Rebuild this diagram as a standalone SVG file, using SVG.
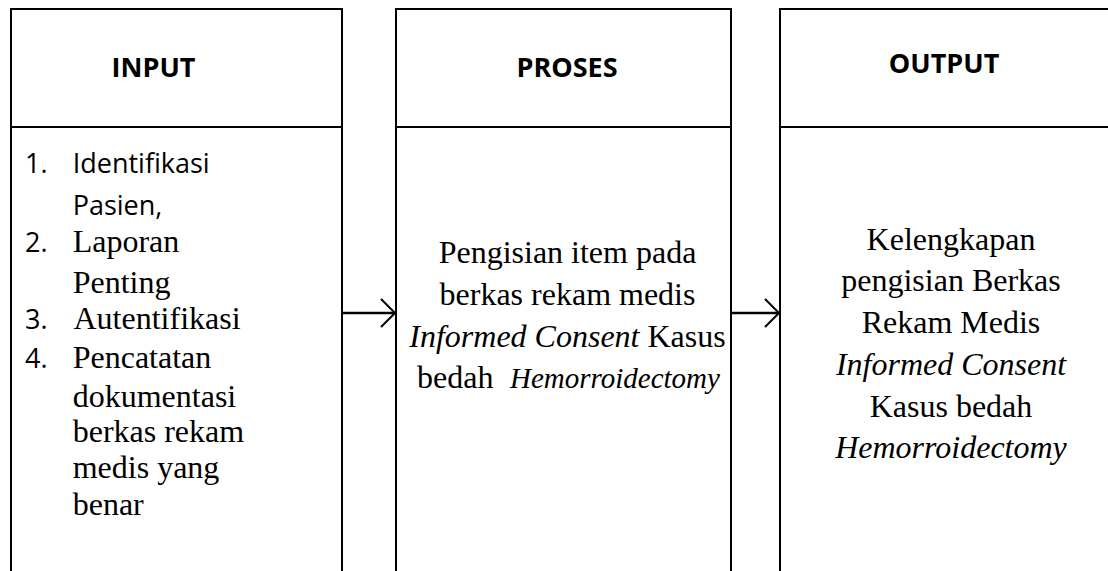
<svg xmlns="http://www.w3.org/2000/svg" width="1108" height="571" viewBox="0 0 1108 571">
<defs>
<style>
.box{fill:#fff;stroke:#000;stroke-width:2}
.div{stroke:#000;stroke-width:2}
.hd{font-family:"Open Sans","Liberation Sans",sans-serif;font-weight:bold;font-size:27px;fill:#000;text-anchor:middle}
.cal{font-family:"Open Sans","Liberation Sans",sans-serif;font-size:27px;fill:#000}
.tm{font-family:"Liberation Serif","Times New Roman",serif;font-size:32px;fill:#000}
.mid{text-anchor:middle}
.it{font-style:italic}
.conn{stroke:#000;stroke-width:2.5;fill:none}
</style>
<marker id="arr" viewBox="-16 -16 18 32" refX="0" refY="0" markerWidth="18" markerHeight="32" markerUnits="userSpaceOnUse" orient="auto">
<path d="M-14,-14 L0,0 L-14,14" fill="none" stroke="#000" stroke-width="2"/>
</marker>
</defs>
<rect width="1108" height="571" fill="#fff"/>
<g id="node-input">
<rect class="box" x="11" y="9" width="331" height="580"/>
<line class="div" x1="11" y1="127" x2="342" y2="127"/>
<text class="hd" x="153.5" y="77">INPUT</text>
<text class="cal" x="25" y="173">1.</text>
<text class="cal" x="72.7" y="173">Identifikasi</text>
<text class="cal" x="72.7" y="215">Pasien,</text>
<text class="cal" x="25" y="252">2.</text>
<text class="tm" x="72.7" y="252">Laporan</text>
<text class="tm" x="72.7" y="293">Penting</text>
<text class="cal" x="25" y="329">3.</text>
<text class="tm" x="73.5" y="329">Autentifikasi</text>
<text class="cal" x="25" y="368">4.</text>
<text class="tm" x="72.7" y="368">Pencatatan</text>
<text class="tm" x="72.7" y="407">dokumentasi</text>
<text class="tm" x="72.7" y="442">berkas rekam</text>
<text class="tm" x="72.7" y="478">medis yang</text>
<text class="tm" x="72.7" y="515">benar</text>
</g>
<g id="node-proses">
<rect class="box" x="396" y="9" width="335" height="580"/>
<line class="div" x1="396" y1="127" x2="731" y2="127"/>
<text class="hd" x="567" y="77">PROSES</text>
<text class="tm mid" x="567.5" y="263">Pengisian item pada</text>
<text class="tm mid" x="567.5" y="305">berkas rekam medis</text>
<text class="tm mid" x="567.5" y="347"><tspan class="it">Informed Consent</tspan> Kasus</text>
<text class="tm" x="417" y="388">bedah</text>
<text class="tm it" x="510" y="388" style="font-size:29px">Hemorroidectomy</text>
</g>
<g id="node-output">
<rect class="box" x="780" y="9" width="345" height="580"/>
<line class="div" x1="780" y1="127" x2="1125" y2="127"/>
<text class="hd" x="944" y="73">OUTPUT</text>
<text class="tm mid" x="951" y="250">Kelengkapan</text>
<text class="tm mid" x="951" y="291">pengisian Berkas</text>
<text class="tm mid" x="951" y="333">Rekam Medis</text>
<text class="tm mid it" x="951" y="375">Informed Consent</text>
<text class="tm mid" x="951" y="417">Kasus bedah</text>
<text class="tm mid it" x="951" y="458">Hemorroidectomy</text>
</g>
<g id="connectors">
<line class="conn" x1="342" y1="313" x2="395" y2="313" marker-end="url(#arr)"/>
<line class="conn" x1="731" y1="313" x2="779" y2="313" marker-end="url(#arr)"/>
</g>
</svg>
